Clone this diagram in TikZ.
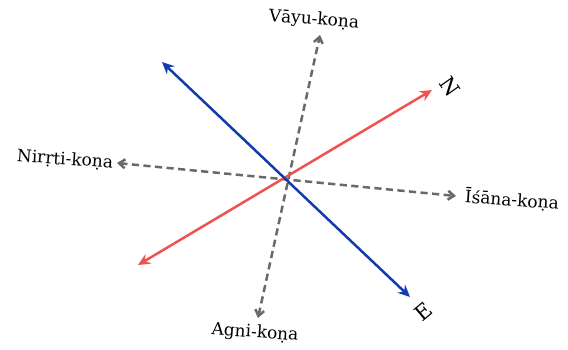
\documentclass[tikz,border=0pt]{standalone}
\usepackage{fontspec}
\setmainfont{DejaVu Serif}
\usepackage{tikz}
\usetikzlibrary{arrows.meta,positioning,calc}
\definecolor{northred}{RGB}{240,82,82}
\definecolor{eastblue}{RGB}{18,60,172}
\definecolor{konagray}{RGB}{105,105,105}

\begin{document}
\begin{tikzpicture}[x=0.5pt,y=-0.5pt,
  axis/.style={line width=1.25pt,{Stealth[length=6pt,width=5.5pt]}-{Stealth[length=6pt,width=5.5pt]}},
  kona/.style={konagray,line width=1.25pt,dash pattern=on 3.6pt off 2.2pt,{Straight Barb[length=3pt,width=4.5pt]}-{Straight Barb[length=3pt,width=4.5pt]}},
  lbl/.style={font=\fontsize{8.5}{10}\selectfont,inner sep=0pt,rotate=-4}]
\useasboundingbox (0,0) rectangle (568,349);
\coordinate (c) at (287,180);
% ends of the four lines
\coordinate (n) at (432,90);
\coordinate (s) at (138,265);
\coordinate (w) at (162,62);
\coordinate (e) at (410,297);
\coordinate (vayu) at (320,35);
\coordinate (agni) at (258,318);
\coordinate (nirrti) at (117,163);
\coordinate (isana) at (456,196);
\draw[kona] (agni)--(vayu);
\draw[kona] (nirrti)--(isana);
\draw[axis,northred] (s)--(n);
\draw[axis,eastblue] (w)--(e);
% labels
\node[lbl] (vayulbl) at (314,20) {Vāyu-koṇa};
\node[lbl] (agnilbl) at (255,333) {Agni-koṇa};
\node[lbl] (nirrtilbl) at (65,160) {Nirṛti-koṇa};
\node[lbl] (isanalbl) at (512,200) {Īśāna-koṇa};
\node[font=\fontsize{10.5}{12}\selectfont,inner sep=0pt,rotate=-55] (nlbl) at (450,87) {N};
\node[font=\fontsize{10.5}{12}\selectfont,inner sep=0pt,rotate=40] (elbl) at (423,312) {E};
\end{tikzpicture}
\end{document}
